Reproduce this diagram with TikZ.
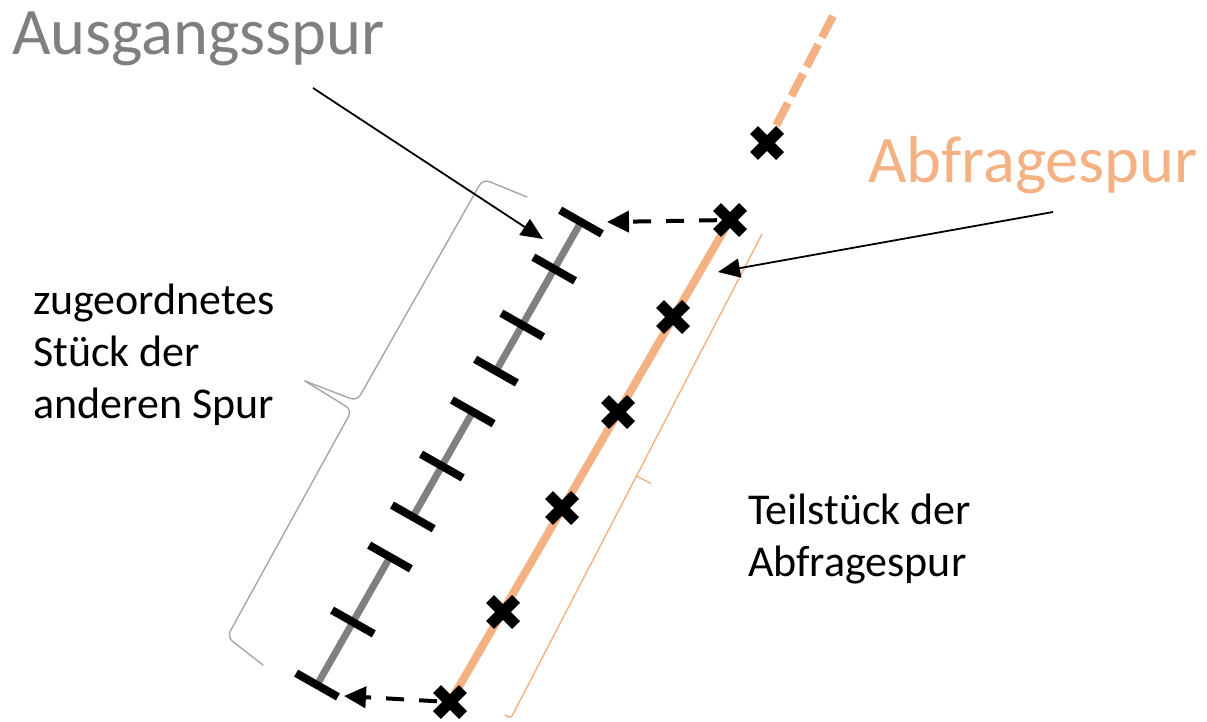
\documentclass[tikz,border=0pt]{standalone}
\usepackage{fontspec}
\setmainfont{Carlito}
\usetikzlibrary{arrows.meta,shapes.misc,calc}
\definecolor{spurgrau}{HTML}{808080}
\definecolor{klammergrau}{HTML}{A6A6A6}
\definecolor{titelgrau}{HTML}{7F7F7F}
\definecolor{abfrage}{HTML}{F4B183}

\begin{document}
\begin{tikzpicture}[x=1pt,y=-1pt,
  grayline/.style={draw=spurgrau,line width=7pt},
  orangeline/.style={draw=abfrage,line width=8pt},
  orangedash/.style={draw=abfrage,line width=8pt,dash pattern=on 25pt off 8pt},
  tickmark/.style={rectangle,fill=black,minimum width=48pt,minimum height=8pt,
    inner sep=0pt,outer sep=0pt,rotate=-29.6},
  xmark/.style={cross out,draw=black,line width=11pt,minimum size=26pt,
    inner sep=0pt,outer sep=0pt},
  pointer/.style={draw=black,line width=1.8pt,-{Triangle[length=22pt,width=19pt]}},
  dasharrow/.style={draw=black,line width=4pt,dash pattern=on 18pt off 15pt,
    -{Triangle[length=22pt,width=21pt]}},
  thinbrace/.style={line width=1.4pt,line cap=round,line join=round,rounded corners=7pt},
  bigtext/.style={font=\fontsize{66.5}{80}\selectfont,inner sep=0pt,anchor=base west},
  bodytext/.style={font=\fontsize{44}{52}\selectfont,inner sep=0pt,align=left,anchor=base west},
]
\useasboundingbox (0,0) rectangle (1207,722);

% brace of the matched piece on the output track
\draw[klammergrau,thinbrace] (527,197) -- (483,179) -- (357,401) -- (305,381);
\draw[klammergrau,thinbrace] (305,381) -- (352,410) -- (227,637) -- (263,665);

% flat brace of the query-track part
\draw[abfrage,thinbrace,rounded corners=2pt]
  (762,234) -- (636.5,476) -- (511,718) -- (505,715);
\draw[abfrage,line width=1.4pt] (636.5,476) -- (651,483.5);

% output track with its sample ticks
\coordinate (g0) at (581,222);
\coordinate (g1) at (317,685);
\foreach \nm/\t in {t1/0,t2/0.1015,t3/0.2225,t4/0.322,t5/0.41,
                    t6/0.527,t7/0.637,t8/0.7235,t9/0.864,t10/1}
  \coordinate (\nm c) at ($(g0)!\t!(g1)$);
\draw[grayline] (t1c) -- (t4c);
\draw[grayline] (t5c) -- (t7c);
\draw[grayline] (t8c) -- (t10c);
\foreach \nm in {t1,t2,t3,t4,t5,t6,t7,t8,t9,t10}
  \node[tickmark] (\nm) at (\nm c) {};

% query track with its sample points
\coordinate (x1c) at (767,143);
\coordinate (x2c) at (730,220);
\coordinate (x7c) at (450,702);
\coordinate (ende) at (833,16);
\draw[orangeline] (x2c) -- (x7c);
\draw[orangedash,shorten <=20pt] (x1c) -- (ende);
\node[xmark] (x1) at (x1c) {};
\node[xmark] (x2) at (x2c) {};
\node[xmark] (x3) at (673,317) {};
\node[xmark] (x4) at (618,412) {};
\node[xmark] (x5) at (562,508) {};
\node[xmark] (x6) at (503,612) {};
\node[xmark] (x7) at (x7c) {};

% assignment of the end points
\coordinate (ziel1) at (607,222);
\coordinate (ziel2) at (344,696);
\draw[dasharrow] (x2) -- (ziel1);
\draw[dasharrow] (x7) -- (ziel2);

% labels and their pointers
\node[bigtext,text=titelgrau] (ausgang) at (12,55) {Ausgangsspur};
\node[bigtext,text=abfrage] (abfrage) at (868,183) {Abfragespur};
\node[bodytext] (stueck) at (33,418) {zugeordnetes\\Stück der\\anderen Spur};
\node[bodytext] (teil) at (748,576) {Teilstück der\\Abfragespur};

\coordinate (p1) at (313,88);
\coordinate (q1) at (543,239);
\coordinate (p2) at (1053,212);
\coordinate (q2) at (718,272);
\draw[pointer] (p1) -- (q1);
\draw[pointer] (p2) -- (q2);
\end{tikzpicture}
\end{document}
